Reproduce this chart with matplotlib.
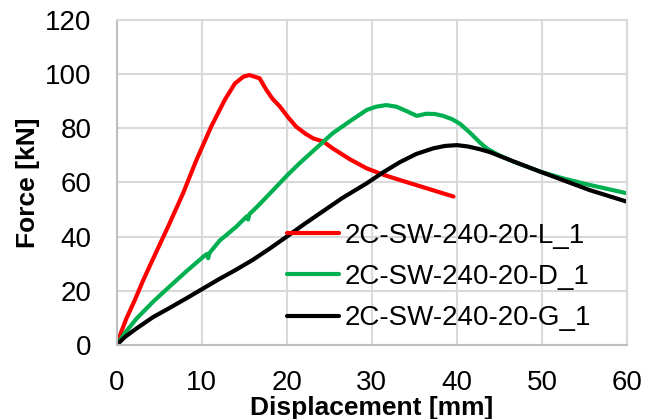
import matplotlib.pyplot as plt

# 读图估计的曲线数据
x_L = [0, 0.5, 1.1, 2.12, 3.06, 4.08, 6.04, 7.8, 9.37, 11.1, 12.7, 13.9, 14.9, 15.6, 16.8, 17.6, 18.3, 19.2, 20.1,
       21.1, 22.2, 23.1, 24.3, 25.4, 27.4, 29.4, 31.4, 33.3, 36.4, 39.6]
y_L = [0, 4.5, 9.5, 16.5, 23.5, 30.5, 43.7, 56.0, 68.3, 80.6, 90.5, 96.6, 99.1, 99.7, 98.5, 94.2, 91, 88, 84.3,
       80.6, 78, 76.3, 75.1, 72.6, 68.6, 65.2, 62.8, 60.9, 57.9, 54.8]

x_D = [0, 1, 2.3, 4.3, 6.2, 8.2, 10.2, 10.6, 10.75, 10.9, 12.1, 14, 15.3, 15.45, 15.6, 16.5, 18.4, 20, 21.5, 23.5,
       25.4, 27.5, 29.4, 30.5, 31.7, 32.9, 34.2, 35.3, 36.4, 37.4, 38.4, 39.5, 40.4, 41.5, 42.7, 43.5, 45, 46.6, 49.8,
       52.5, 55.6, 60]
y_D = [0, 4.5, 9.6, 16, 21.5, 27.2, 32.6, 33.6, 32.0, 33.9, 38.5, 43.5, 47.5, 46.3, 48.3, 51, 57.2, 62.5, 67.1, 72.8,
       78.2, 82.8, 86.8, 88, 88.6, 88.0, 86.2, 84.6, 85.4, 85.3, 84.6, 83.3, 81.6, 78.5, 74.8, 72.6, 70, 67.8, 64,
       61.5, 59.1, 56]

x_G = [0, 1, 2.3, 4.3, 6.2, 8.2, 10.2, 12.1, 14, 16.0, 18, 20.0, 22, 23.9, 26.5, 29.4, 31.4, 33.3, 35.2, 37.2, 38.6,
       40.0, 41.3, 42.7, 43.9, 46.8, 49.8, 52.7, 55.6, 60]
y_G = [0, 3.0, 6.0, 10.3, 13.6, 17.2, 20.9, 24.4, 27.7, 31.4, 35.6, 40, 44.5, 48.6, 54.2, 59.7, 63.9, 67.5, 70.5, 72.6,
       73.5, 73.8, 73.3, 72.3, 71.2, 67.6, 64, 60.6, 57.2, 52.9]

labels = ["2C-SW-240-20-L_1", "2C-SW-240-20-D_1", "2C-SW-240-20-G_1"]
xticks = [0, 10, 20, 30, 40, 50, 60]
yticks = [0, 20, 40, 60, 80, 100, 120]

plt.rcParams['font.family'] = ['Liberation Sans', 'DejaVu Sans']

fig = plt.figure(figsize=(6.45, 4.19), dpi=100)
ax = fig.add_axes([0.181, 0.177, 0.791, 0.775])

line_kw = dict(lw=3, solid_capstyle='round', solid_joinstyle='round')
ax.plot(x_L, y_L, color='#FF0000', label=labels[0], **line_kw)
ax.plot(x_D, y_D, color='#00B050', label=labels[1], **line_kw)
ax.plot(x_G, y_G, color='#000000', label=labels[2], **line_kw)

ax.set_xlim(0, 60)
ax.set_ylim(0, 120)
ax.set_xticks(xticks)
ax.set_yticks(yticks)
ax.tick_params(length=0, labelsize=20, pad=18)
ax.grid(True, color='#d9d9d9', lw=1.5)
ax.set_axisbelow(True)
for s in ['top', 'right']:
    ax.spines[s].set_color('#d9d9d9')
    ax.spines[s].set_linewidth(1.5)
for s in ['left', 'bottom']:
    ax.spines[s].set_color('#bfbfbf')
    ax.spines[s].set_linewidth(1.5)

ax.set_xlabel("Displacement [mm]", fontsize=19, fontweight='bold', labelpad=0)
ax.set_ylabel("Force [kN]", fontsize=19, fontweight='bold', labelpad=4)

ax.legend(loc='center left', bbox_to_anchor=(0.333, 0.209), frameon=False, fontsize=20,
          handlelength=1.9, handletextpad=0.2, labelspacing=0.55, borderpad=0, borderaxespad=0)

fig.savefig("out.png", dpi=100)
